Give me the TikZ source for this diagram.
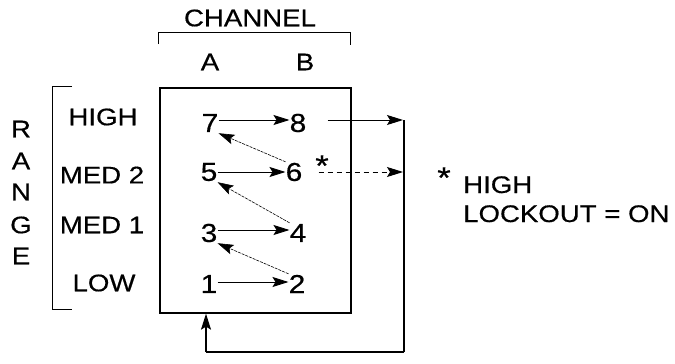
\documentclass[tikz,border=0pt]{standalone}
\usepackage{fontspec}
\setmainfont{Liberation Sans}[FakeStretch=1.15,FakeBold=0.5]
\usetikzlibrary{arrows.meta}
\tikzset{
  lbl/.style={font=\fontsize{24}{28}\selectfont, inner sep=0pt},
  num/.style={font=\fontsize{26}{30}\selectfont, inner sep=0pt, minimum width=16pt, minimum height=20pt},
  sarr/.style={-{Stealth[length=16pt,width=10pt,inset=3pt]}, line width=0.9pt},
  darr/.style={sarr, dash pattern=on 5pt off 4pt},
  back/.style={sarr, line width=0.6pt, dash pattern=on 3pt off 1pt},
  brk/.style={line width=0.9pt},
  frame/.style={draw, line width=1.3pt, inner sep=0pt},
  ret/.style={line width=2.2pt},
}
\begin{document}
\begin{tikzpicture}[x=1pt,y=-1pt]
\useasboundingbox (0,0) rectangle (675,364);
% channel header
\node[lbl] (chan) at (250,18) {CHANNEL};
\draw[brk] (158,44) -- (158,32) -- (350,32) -- (350,45);
\node[lbl] (cha) at (210,62) {A};
\node[lbl] (chb) at (305,62) {B};
% range side
\draw[brk] (72,86) -- (52,86) -- (52,309) -- (72,309);
\foreach \ch/\y [count=\i] in {R/129,A/161,N/192,G/225,E/256}
  \node[lbl] (r\i) at (21,\y) {\ch};
\node[lbl] (high) at (103,117) {HIGH};
\node[lbl] (med2) at (102,175) {MED 2};
\node[lbl] (med1) at (102,225) {MED 1};
\node[lbl] (low) at (104,283) {LOW};
% selector grid
\node[frame, minimum width=191pt, minimum height=225pt] (grid) at (255.5,200.5) {};
\node[num] (n7) at (210,123) {7};
\node[num] (n8) at (298,123) {8};
\node[num] (n5) at (209,172) {5};
\node[num] (n6) at (294,172) {6};
\node[num] (n3) at (209,233) {3};
\node[num] (n4) at (298,233) {4};
\node[num] (n1) at (209,284) {1};
\node[num] (n2) at (297,284) {2};
\node[font=\fontsize{30}{30}\selectfont, inner sep=0pt, anchor=base] (st6) at (322,176) {*};
\draw[sarr] ([yshift=3pt]n7.east) -- ([yshift=3pt]n8.west);
\draw[sarr] (n5.east) -- (n6.west);
\draw[sarr] ([yshift=3pt]n3.east) -- ([yshift=3pt]n4.west);
\draw[sarr] ([yshift=2pt]n1.east) -- ([yshift=2pt]n2.west);
\draw[back] (n6.north west) -- (n7.south east);
\draw[back] (n4.north west) -- (n5.south east);
\draw[back] (n2.north west) -- (n3.south east);
% return path
\coordinate (rtop) at (404,120);
\coordinate (rbot) at (404,352);
\coordinate (lbot) at (206,352);
\coordinate (in8) at (403,120);
\coordinate (in6) at (403,172);
\draw[sarr] ([xshift=21pt,yshift=3pt]n8.east) -- (in8);
\draw[darr] ([xshift=16pt]n6.east) -- (in6);
\draw[ret] (rtop) -- (rbot);
\draw[line width=1.2pt] (rbot) -- (lbot);
\draw[sarr, line width=1.2pt] (lbot) -- (lbot |- grid.south);
% note
\node[font=\fontsize{30}{30}\selectfont, inner sep=0pt, anchor=base] (fstar) at (444,188) {*};
\node[lbl, anchor=base west] (fn1) at (463,193) {HIGH};
\node[lbl, anchor=base west] (fn2) at (463,222) {LOCKOUT = ON};
\end{tikzpicture}
\end{document}
